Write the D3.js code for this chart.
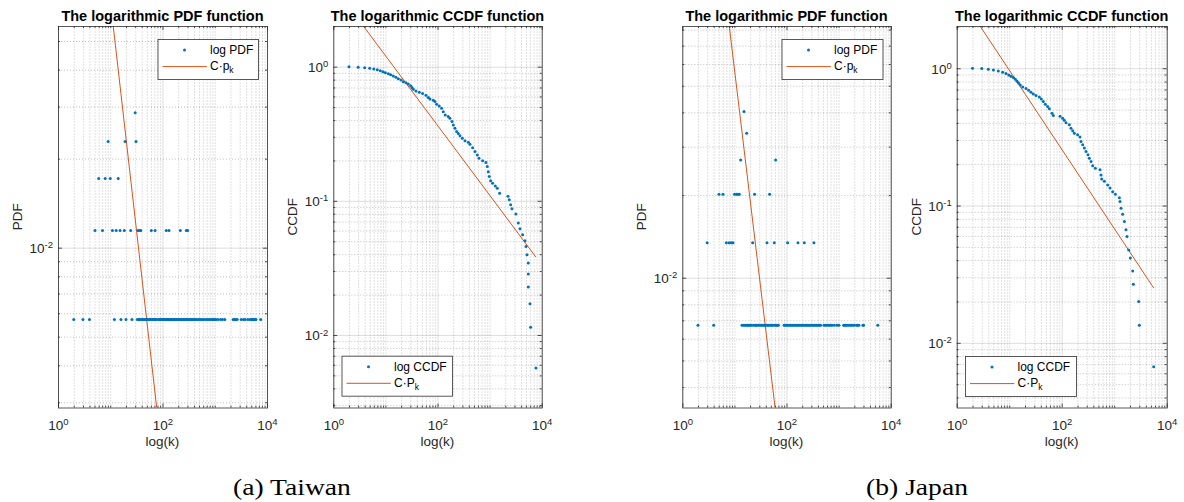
<!DOCTYPE html>
<html><head><meta charset="utf-8">
<script src="https://cdn.jsdelivr.net/npm/d3@7/dist/d3.min.js"></script>
<style>
body{margin:0;background:#fff;}
svg{display:block;font-family:"Liberation Sans",Arial,Helvetica,sans-serif;}
</style></head><body>
<svg id="chart" width="1184" height="502"></svg>
<script>
// ---------------- DATA ----------------
const xDomain = [1, 1e4];
const xMajorTicks = [1, 100, 10000];
const xTickExponents = ["0", "2", "4"];

// Taiwan PDF (levels = share of nodes)
const taiwanPdfLevels = [0.00571, 0.01143, 0.01714, 0.02286, 0.02857];
const taiwanPdfK1 = [2, 3, 4, 12, 16, 20, 26,
  33, 35, 36, 38, 40, 42, 44, 46, 48, 50, 52, 55, 57, 59, 63, 65, 68, 70, 74, 77,
  84, 87, 90, 94, 97, 101, 104, 108, 112, 116, 121, 125, 130, 136, 141, 147, 152, 158, 165, 171, 178, 186, 194, 202, 211, 220, 230, 240, 251, 262, 274, 287, 300, 315, 330, 346, 363, 381, 400, 420, 444,
  480, 510, 540, 580, 625, 680, 735, 790, 851, 903, 944, 987, 1047, 1143, 1286, 1405, 1558,
  2253, 2388, 2535, 2687, 3206, 3555, 3828, 4307, 4773, 4990, 5216, 5400, 5530, 5650, 5957, 6135, 7580];
const taiwanPdfK2 = [5.1, 7.1, 11, 13, 15.4, 18.6, 24.6, 34, 36.5, 38.5, 61, 72, 118, 133, 219, 286, 303];
const taiwanPdfK3 = [6, 8, 10, 14.2];
const taiwanPdfK4 = [9.1, 19.2, 31.1];
const taiwanPdfK5 = [30];

// Taiwan CCDF
const taiwanCcdfK = [2, 3, 4, 5, 6, 7, 8, 9, 10, 11.4, 12.6, 14.2, 15.9, 17.7, 19.9, 22.1, 24.8, 27.5, 30.5, 32.4,
  34.3, 38.6, 44.8, 51.8, 60.1, 66.6, 71.7, 83, 89.4, 96.2, 108, 120, 129, 141, 161, 173, 190, 201, 216, 233,
  251, 270, 299, 337, 390, 420, 472, 524, 581, 625, 735, 851, 903, 944, 987, 1047, 1143, 1286, 1405, 1558,
  2253, 2388, 2535, 2687, 3206, 3555, 3828, 4307, 4773, 4990, 5216, 5530, 5530, 5530, 5957, 6135, 7762];
const taiwanCcdfP = [1, 0.989, 0.983, 0.972, 0.961, 0.950, 0.934, 0.918, 0.902, 0.887, 0.872, 0.852, 0.833, 0.814, 0.796, 0.773, 0.760, 0.743, 0.722, 0.698,
  0.678, 0.659, 0.644, 0.630, 0.612, 0.588, 0.574, 0.562, 0.549, 0.524, 0.510, 0.490, 0.462, 0.437, 0.425, 0.412, 0.390, 0.368, 0.348, 0.328,
  0.317, 0.306, 0.293, 0.280, 0.273, 0.264, 0.249, 0.233, 0.220, 0.208, 0.199, 0.193, 0.180, 0.165, 0.152, 0.141, 0.135, 0.129, 0.124, 0.114,
  0.108, 0.102, 0.0933, 0.0871, 0.0796, 0.0682, 0.0619, 0.0559, 0.0504, 0.0457, 0.0396, 0.0344, 0.0285, 0.0228, 0.0171, 0.0114, 0.00568];

// Taiwan fitted lines (visible end points)
const taiwanPdfFitK = [11.4, 77.4];
const taiwanPdfFitP = [0.0562, 0.00288];
const taiwanCcdfFitK = [3.77, 7762];
const taiwanCcdfFitP = [2.01, 0.038];

// Japan PDF
const japanPdfLevels = [0.00671, 0.01342, 0.02013, 0.02685, 0.03356, 0.04027];
const japanPdfK1 = [2, 4,
  14, 15, 16, 17, 18, 19, 20, 21, 23, 25, 26, 27, 29, 31, 33, 35, 37, 39, 41, 44, 46, 49, 52, 55, 60, 63, 66, 70,
  90, 95, 100, 107, 113, 120, 127, 135, 143, 152, 161, 170, 180, 191, 203, 215, 228, 241, 256, 270, 287, 304, 322, 341, 361, 383, 406, 430, 452,
  525, 560, 600, 650, 700, 750, 830, 935, 1016,
  1254, 1291, 1349, 1449, 1561, 1680, 1755, 1889, 2030, 2249, 2317, 2456,
  2930, 3010, 5646];
const japanPdfK2 = [3, 7, 7.9, 8.7, 9.4, 22.4, 42.2, 58.3, 105, 166, 220, 336];
const japanPdfK3 = [5.06, 6.04, 10.1, 11, 11.7, 12.4, 24.4, 47.4];
const japanPdfK4 = [13.2, 61.8];
const japanPdfK5 = [17.2];
const japanPdfK6 = [15.3];

// Japan CCDF
const japanCcdfK = [2, 3, 4, 5, 6.2, 7.5, 8.7, 9.8, 10.8, 12, 13.1, 14.1, 15.1, 16.3, 18.1, 20.9, 23.5, 26, 28.8, 32.4,
  37.5, 40.9, 44.7, 48.8, 54, 58.1, 65.3, 69.3, 92.9, 104, 112, 121, 140, 150, 162, 174, 201, 223, 233, 251,
  270, 290, 317, 336, 362, 389, 437, 537, 561, 577, 649, 751, 832, 935, 1052, 1254, 1291, 1349, 1449, 1561,
  1680, 1755, 1889, 2030, 2249, 2317, 2927, 3013, 5646];
const japanCcdfP = [1, 0.994, 0.983, 0.972, 0.956, 0.935, 0.915, 0.894, 0.874, 0.855, 0.832, 0.804, 0.782, 0.756, 0.731, 0.711, 0.692, 0.668, 0.650, 0.632,
  0.618, 0.598, 0.572, 0.547, 0.526, 0.506, 0.470, 0.452, 0.447, 0.432, 0.418, 0.400, 0.387, 0.366, 0.350, 0.336, 0.327, 0.316, 0.292, 0.277,
  0.262, 0.247, 0.234, 0.221, 0.209, 0.195, 0.187, 0.182, 0.167, 0.156, 0.150, 0.141, 0.134, 0.126, 0.121, 0.114, 0.107, 0.0957, 0.0865, 0.0765,
  0.0665, 0.0595, 0.0475, 0.0414, 0.0334, 0.0267, 0.0200, 0.0134, 0.00669];

const japanPdfFitK = [7.98, 60.2];
const japanPdfFitP = [0.0824, 0.00338];
const japanCcdfFitK = [2.78, 5646];
const japanCcdfFitP = [2.03, 0.0251];

const captions = ["(a) Taiwan", "(b) Japan"];

// ---------------- DRAWING ----------------
const svg = d3.select("#chart");
const BLUE = "#0072BD", ORANGE = "#D95319", AX = "#262626";

function pairs(ks, ps) { return ks.map((k, i) => ({k: k, p: ps[i]})); }
function levelPoints(levels, lists) {
  const out = [];
  lists.forEach((ks, i) => ks.forEach(k => out.push({k: k, p: levels[i]})));
  return out;
}
function logTicks(domain) {
  const out = [];
  const lo = Math.floor(Math.log10(domain[0])), hi = Math.ceil(Math.log10(domain[1]));
  for (let d = lo; d <= hi; d++) for (let m = 1; m < 10; m++) {
    const v = +(m * Math.pow(10, d)).toPrecision(6);
    if (v >= domain[0] * 0.9999 && v <= domain[1] * 1.0001) out.push(v);
  }
  return out;
}
function isMajor(v, majors) { return majors.some(m => Math.abs(Math.log10(v) - Math.log10(m)) < 1e-6); }

function superscript(sel, majors, exps) {
  sel.selectAll(".tick text").each(function(d) {
    const t = d3.select(this);
    const idx = majors.findIndex(m => Math.abs(Math.log10(d) - Math.log10(m)) < 1e-6);
    t.text(null);
    t.append("tspan").text("10");
    t.append("tspan").attr("dy", "-0.5em").attr("font-size", "9.5px").text(idx >= 0 ? exps[idx] : "");
  });
}

let clipId = 0;
function panel(cfg) {
  const x = d3.scaleLog().domain(xDomain).range([cfg.x0, cfg.x1]);
  const y = d3.scaleLog().domain(cfg.yDomain).range([cfg.y1, cfg.y0]);
  const w = cfg.x1 - cfg.x0, h = cfg.y1 - cfg.y0;
  const g = svg.append("g");
  const cid = "clip" + (clipId++);
  g.append("clipPath").attr("id", cid).append("rect")
    .attr("x", cfg.x0).attr("y", cfg.y0).attr("width", w).attr("height", h);

  const xAll = logTicks(xDomain);
  const xMinor = xAll.filter(v => !isMajor(v, xMajorTicks));
  const yAll = logTicks(cfg.yDomain);
  const yMinor = yAll.filter(v => !isMajor(v, cfg.yMajor));

  const styleGrid = (sel, minor) => {
    sel.select(".domain").remove();
    sel.selectAll(".tick line").attr("stroke", AX)
      .attr("stroke-opacity", minor ? 0.35 : 0.15)
      .attr("stroke-dasharray", minor ? "1,2" : null)
      .attr("stroke-width", minor ? 0.8 : 1);
  };
  // grids
  g.append("g").attr("transform", `translate(0,${cfg.y1})`)
    .call(d3.axisBottom(x).tickValues(xMinor).tickSize(-h).tickFormat(""))
    .call(s => styleGrid(s, true));
  g.append("g").attr("transform", `translate(${cfg.x0},0)`)
    .call(d3.axisLeft(y).tickValues(yMinor).tickSize(-w).tickFormat(""))
    .call(s => styleGrid(s, true));
  g.append("g").attr("transform", `translate(0,${cfg.y1})`)
    .call(d3.axisBottom(x).tickValues(xMajorTicks).tickSize(-h).tickFormat(""))
    .call(s => styleGrid(s, false));
  g.append("g").attr("transform", `translate(${cfg.x0},0)`)
    .call(d3.axisLeft(y).tickValues(cfg.yMajor).tickSize(-w).tickFormat(""))
    .call(s => styleGrid(s, false));

  // data
  const line = d3.line().x(d => x(d.k)).y(d => y(d.p));
  g.append("path").datum(cfg.fit).attr("clip-path", `url(#${cid})`)
    .attr("d", line).attr("fill", "none").attr("stroke", ORANGE).attr("stroke-width", 1);
  g.append("g").attr("clip-path", `url(#${cid})`).selectAll("circle").data(cfg.points).join("circle")
    .attr("cx", d => x(d.k)).attr("cy", d => y(d.p)).attr("r", 1.5).attr("fill", BLUE);

  // ticks (inward) all four sides
  const styleTicks = sel => {
    sel.select(".domain").remove();
    sel.selectAll(".tick line").attr("stroke", AX).attr("stroke-width", 0.8);
  };
  [[xMinor, 2, false], [xMajorTicks, 4, true]].forEach(([vals, len, major]) => {
    const b = g.append("g").attr("transform", `translate(0,${cfg.y1})`)
      .call(d3.axisBottom(x).tickValues(vals).tickSize(-len).tickFormat(major ? (d => "10") : ""))
      .call(styleTicks);
    if (major) {
      b.selectAll(".tick text").attr("dy", null).attr("y", 22.5).attr("fill", AX)
        .attr("font-size", "13.5px").attr("font-family", "Liberation Sans, Arial, sans-serif");
      superscript(b, xMajorTicks, xTickExponents);
    }
    g.append("g").attr("transform", `translate(0,${cfg.y0})`)
      .call(d3.axisTop(x).tickValues(vals).tickSize(-len).tickFormat("")).call(styleTicks);
  });
  [[yMinor, 2, false], [cfg.yMajor, 4, true]].forEach(([vals, len, major]) => {
    const l = g.append("g").attr("transform", `translate(${cfg.x0},0)`)
      .call(d3.axisLeft(y).tickValues(vals).tickSize(-len).tickPadding(5).tickFormat(major ? (d => "10") : ""))
      .call(styleTicks);
    if (major) {
      l.selectAll(".tick text").attr("dy", "0.36em").attr("x", -5).attr("fill", AX)
        .attr("font-size", "13.5px").attr("font-family", "Liberation Sans, Arial, sans-serif");
      superscript(l, cfg.yMajor, cfg.yExps);
    }
    g.append("g").attr("transform", `translate(${cfg.x1},0)`)
      .call(d3.axisRight(y).tickValues(vals).tickSize(-len).tickFormat("")).call(styleTicks);
  });

  // box
  g.append("rect").attr("x", cfg.x0 + 0.5).attr("y", cfg.y0 + 0.5).attr("width", w).attr("height", h)
    .attr("fill", "none").attr("stroke", AX).attr("stroke-width", 0.9).attr("stroke-opacity", 0.85);

  // title & labels
  g.append("text").attr("x", (cfg.x0 + cfg.x1) / 2).attr("y", 20.5).attr("text-anchor", "middle")
    .attr("font-weight", "bold").attr("font-size", "14.5px").attr("fill", "#000").text(cfg.title);
  g.append("text").attr("x", (cfg.x0 + cfg.x1) / 2).attr("y", 446).attr("text-anchor", "middle")
    .attr("font-size", "13.5px").attr("fill", AX).text("log(k)");
  g.append("text").attr("transform", `translate(${cfg.x0 - 36},${(cfg.y0 + cfg.y1) / 2}) rotate(-90)`)
    .attr("text-anchor", "middle").attr("font-size", "13.5px").attr("fill", AX).text(cfg.ylabel);

  // legend
  const L = cfg.legend;
  const lg = g.append("g").attr("transform", `translate(${L.x},${L.y})`);
  lg.append("rect").attr("x", 0.5).attr("y", 0.5).attr("width", L.w).attr("height", 40)
    .attr("fill", "#fff").attr("stroke", AX).attr("stroke-width", 0.9).attr("stroke-opacity", 0.85);
  lg.append("circle").attr("cx", 27).attr("cy", 11).attr("r", 1.5).attr("fill", BLUE);
  lg.append("line").attr("x1", 5).attr("x2", 49.3).attr("y1", 27.6).attr("y2", 27.6)
    .attr("stroke", ORANGE).attr("stroke-width", 1);
  lg.append("text").attr("x", 52.5).attr("y", 15.2).attr("font-size", "12px").attr("fill", "#000").text(L.t1);
  const t2 = lg.append("text").attr("x", 52.5).attr("y", 31.2).attr("font-size", "12px").attr("fill", "#000");
  t2.append("tspan").text(L.t2);
  t2.append("tspan").attr("dy", "3").attr("font-size", "8.5px").text("k");
}

const top0 = 26, bot0 = 407.5;
panel({x0: 58, x1: 267, y0: top0, y1: bot0, yDomain: [0.00288, 0.0562], yMajor: [0.01], yExps: ["-2"],
  title: "The logarithmic PDF function", ylabel: "PDF",
  points: levelPoints(taiwanPdfLevels, [taiwanPdfK1, taiwanPdfK2, taiwanPdfK3, taiwanPdfK4, taiwanPdfK5]),
  fit: pairs(taiwanPdfFitK, taiwanPdfFitP),
  legend: {x: 157.5, y: 39, w: 100.5, t1: "log PDF", t2: "C\u00b7p"}});
panel({x0: 333.3, x1: 541.7, y0: top0, y1: bot0, yDomain: [0.00288, 2.01], yMajor: [0.01, 0.1, 1], yExps: ["-2", "-1", "0"],
  title: "The logarithmic CCDF function", ylabel: "CCDF",
  points: pairs(taiwanCcdfK, taiwanCcdfP),
  fit: pairs(taiwanCcdfFitK, taiwanCcdfFitP),
  legend: {x: 341.5, y: 355.7, w: 110.5, t1: "log CCDF", t2: "C\u00b7P"}});
panel({x0: 682.3, x1: 890.7, y0: top0, y1: bot0, yDomain: [0.00337, 0.0825], yMajor: [0.01], yExps: ["-2"],
  title: "The logarithmic PDF function", ylabel: "PDF",
  points: levelPoints(japanPdfLevels, [japanPdfK1, japanPdfK2, japanPdfK3, japanPdfK4, japanPdfK5, japanPdfK6]),
  fit: pairs(japanPdfFitK, japanPdfFitP),
  legend: {x: 781.5, y: 39, w: 101, t1: "log PDF", t2: "C\u00b7p"}});
panel({x0: 956.7, x1: 1166.7, y0: top0, y1: bot0, yDomain: [0.00338, 2.03], yMajor: [0.01, 0.1, 1], yExps: ["-2", "-1", "0"],
  title: "The logarithmic CCDF function", ylabel: "CCDF",
  points: pairs(japanCcdfK, japanCcdfP),
  fit: pairs(japanCcdfFitK, japanCcdfFitP),
  legend: {x: 965, y: 356, w: 111, t1: "log CCDF", t2: "C\u00b7P"}});

// captions (serif, horizontally widened to mimic Computer Modern proportions)
[[292, captions[0]], [917, captions[1]]].forEach(([cx, txt]) => {
  svg.append("text").attr("transform", `translate(${cx},495) scale(1.2,1)`).attr("text-anchor", "middle")
    .attr("font-family", "Liberation Serif, 'DejaVu Serif', serif").attr("font-size", "23px")
    .attr("fill", "#000").text(txt);
});
</script>
</body></html>
